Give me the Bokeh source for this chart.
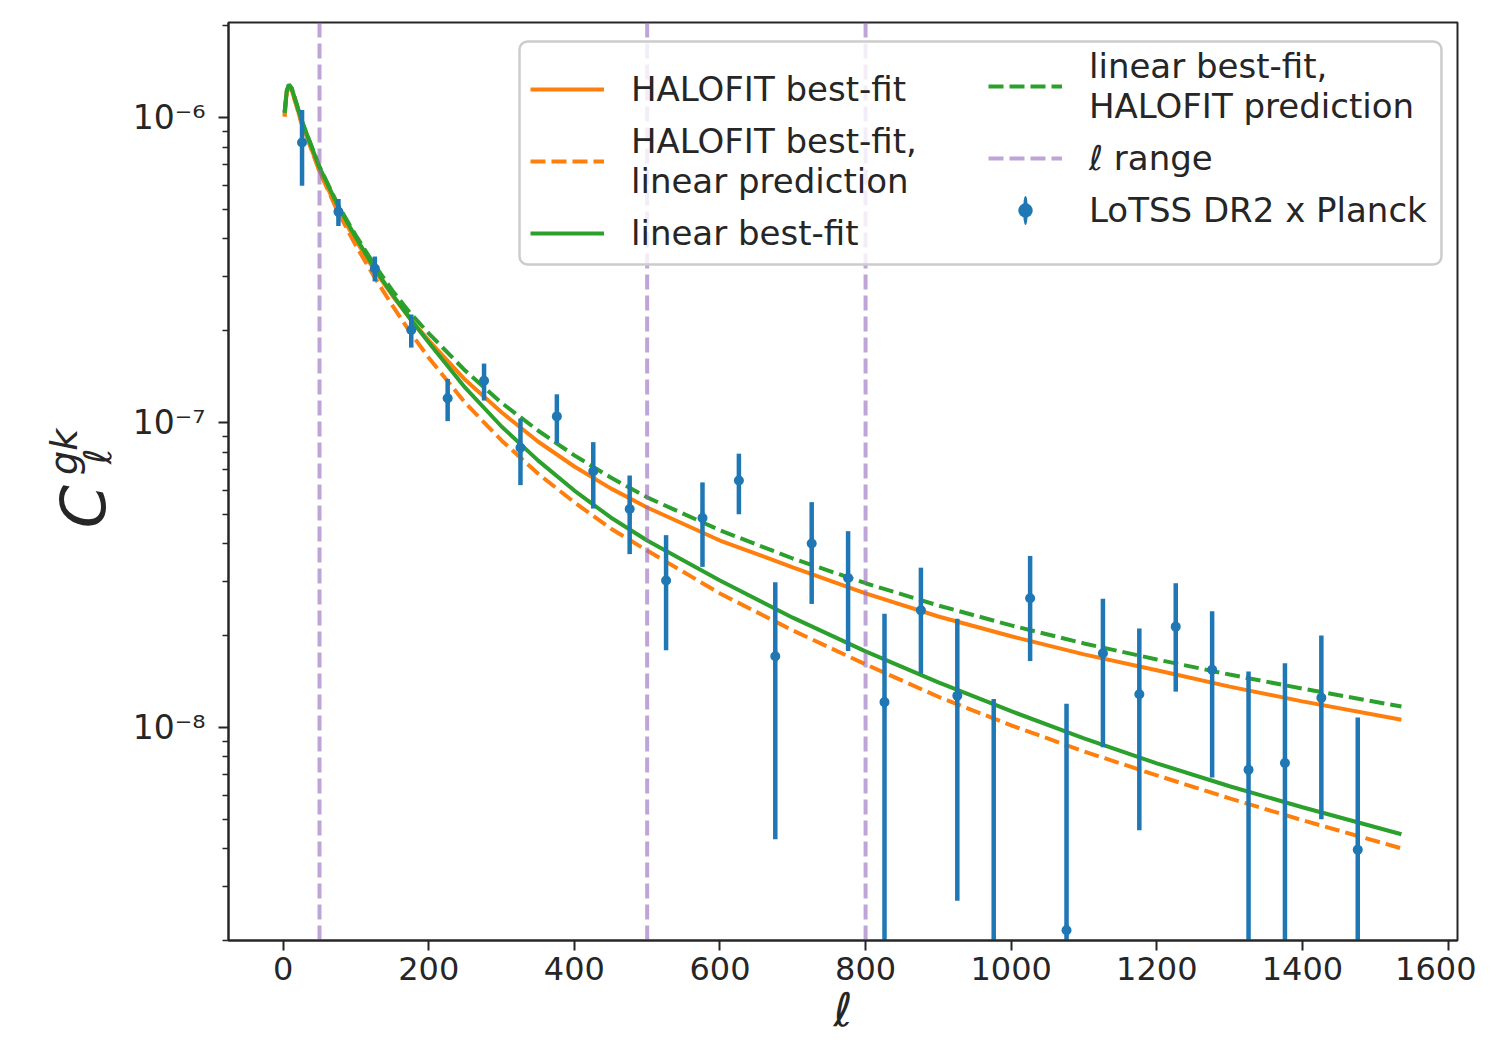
import math
from bokeh.plotting import figure
from bokeh.layouts import row
from bokeh.models import (Range1d, FixedTicker, CustomJSTickFormatter, Legend, LegendItem, Label,
                          BoxAnnotation)
from bokeh.embed import file_html
from bokeh.resources import INLINE

# ---------------- data ----------------
ell_data = [26, 76, 126, 176, 226, 276, 326, 376, 426, 476, 526, 576, 626, 676, 726,
            776, 826, 876, 926, 976, 1026, 1076, 1126, 1176, 1226, 1276, 1326, 1376, 1426, 1476]
cl_data = [8.28e-7, 4.91e-7, 3.20e-7, 2.01e-7, 1.20e-7, 1.37e-7, 8.26e-8, 1.047e-7, 6.92e-8, 5.20e-8,
           3.03e-8, 4.86e-8, 6.45e-8, 1.71e-8, 4.01e-8, 3.09e-8, 1.21e-8, 2.42e-8, 1.27e-8, 1.0e-9,
           2.65e-8, 2.16e-9, 1.75e-8, 1.285e-8, 2.14e-8, 1.545e-8, 7.26e-9, 7.64e-9, 1.25e-8, 3.97e-9]
cl_err = [2.3e-7, 5.0e-8, 3.0e-8, 2.5e-8, 1.9e-8, 1.9e-8, 2.03e-8, 1.9e-8, 1.7e-8, 1.5e-8,
          1.24e-8, 1.5e-8, 1.45e-8, 1.28e-8, 1.47e-8, 1.31e-8, 1.15e-8, 9.2e-9, 1.0e-8, 1.14e-8,
          1.0e-8, 9.8e-9, 8.9e-9, 8.25e-9, 8.3e-9, 8.6e-9, 8.0e-9, 8.6e-9, 7.5e-9, 6.8e-9]

ell_theory = [2, 5, 8, 12, 18, 25, 35, 50, 75, 100, 125, 150, 175, 200, 250, 300, 350, 400, 450,
              500, 600, 700, 800, 900, 1000, 1100, 1200, 1300, 1400, 1536]
halofit_bestfit = [1.008e-6, 1.208e-6, 1.264e-6, 1.226e-6, 1.103e-6, 9.63e-7, 8.34e-7, 6.70e-7,
                   4.99e-7, 3.95e-7, 3.17e-7, 2.61e-7, 2.18e-7, 1.86e-7, 1.38e-7, 1.08e-7, 8.66e-8,
                   7.17e-8, 6.08e-8, 5.26e-8, 4.10e-8, 3.35e-8, 2.75e-8, 2.31e-8, 1.99e-8, 1.735e-8,
                   1.54e-8, 1.36e-8, 1.217e-8, 1.06e-8]
halofit_bestfit_linpred = [1.008e-6, 1.208e-6, 1.264e-6, 1.226e-6, 1.103e-6, 9.63e-7, 8.34e-7, 6.65e-7,
                           4.92e-7, 3.80e-7, 3.01e-7, 2.42e-7, 1.97e-7, 1.63e-7, 1.16e-7, 8.73e-8,
                           6.80e-8, 5.47e-8, 4.49e-8, 3.80e-8, 2.75e-8, 2.08e-8, 1.61e-8, 1.26e-8,
                           1.015e-8, 8.34e-9, 6.96e-9, 5.85e-9, 4.96e-9, 4.01e-9]
linear_bestfit = [1.038e-6, 1.226e-6, 1.283e-6, 1.245e-6, 1.120e-6, 9.85e-7, 8.53e-7, 6.86e-7,
                  5.15e-7, 4.04e-7, 3.22e-7, 2.63e-7, 2.18e-7, 1.83e-7, 1.30e-7, 9.70e-8, 7.51e-8,
                  5.98e-8, 4.88e-8, 4.10e-8, 3.03e-8, 2.29e-8, 1.775e-8, 1.405e-8, 1.13e-8, 9.20e-9,
                  7.62e-9, 6.41e-9, 5.47e-9, 4.46e-9]
linear_bestfit_halopred = [1.038e-6, 1.226e-6, 1.283e-6, 1.245e-6, 1.120e-6, 9.85e-7, 8.53e-7, 6.91e-7,
                           5.19e-7, 4.10e-7, 3.30e-7, 2.71e-7, 2.28e-7, 1.96e-7, 1.48e-7, 1.16e-7,
                           9.41e-8, 7.80e-8, 6.60e-8, 5.68e-8, 4.43e-8, 3.58e-8, 2.97e-8, 2.51e-8,
                           2.16e-8, 1.885e-8, 1.67e-8, 1.49e-8, 1.34e-8, 1.17e-8]
ell_range = [50, 500, 800]

x_ticks = [0, 200, 400, 600, 800, 1000, 1200, 1400, 1600]
y_major = [1e-8, 1e-7, 1e-6]
y_minor = [m * 10.0 ** k for k in (-9, -8, -7, -6) for m in range(2, 10)]
x_lim = (-75, 1613)
y_lim = (2.0e-9, 2.05e-6)

ORANGE = "#ff7f0e"
GREEN = "#2ca02c"
BLUE = "#1f77b4"
PURPLE = "#9467bd"
TXT = "#262626"
FONT = "DejaVu Sans"
DASH = "15 6"

TOTAL_W, TOTAL_H = 1476, 1039
LABEL_W = 120  # strip holding the rotated y-axis label

# ---------------- main figure ----------------
p = figure(width=TOTAL_W - LABEL_W, height=TOTAL_H, x_range=Range1d(*x_lim), y_range=Range1d(*y_lim),
           y_axis_type="log", output_backend="svg", toolbar_location=None,
           min_border_left=228 - LABEL_W, min_border_right=19, min_border_top=22, min_border_bottom=99)
p.xgrid.visible = False
p.ygrid.visible = False
p.outline_line_color = TXT
p.outline_line_width = 2
p.outline_line_alpha = 1
p.background_fill_color = "white"

for ax in (p.xaxis, p.yaxis):
    ax.axis_line_color = TXT
    ax.axis_line_width = 2
    ax.major_tick_line_color = TXT
    ax.major_tick_line_width = 2
    ax.major_tick_out = 10
    ax.major_tick_in = 0
    ax.major_label_text_font = FONT
    ax.major_label_text_color = TXT

p.xaxis.major_label_text_font_size = "32px"
p.yaxis.major_label_text_font_size = "33px"

p.xaxis.ticker = FixedTicker(ticks=x_ticks)
p.xaxis.minor_tick_line_color = None
p.xaxis.major_label_standoff = 6
p.xaxis.axis_label = "ℓ"
p.xaxis.axis_label_text_font = FONT
p.xaxis.axis_label_text_font_size = "46px"
p.xaxis.axis_label_text_font_style = "italic"
p.xaxis.axis_label_text_color = TXT
p.xaxis.axis_label_standoff = 0

p.yaxis.ticker = FixedTicker(ticks=y_major, minor_ticks=y_minor)
p.yaxis.minor_tick_line_color = TXT
p.yaxis.minor_tick_line_width = 1.5
p.yaxis.minor_tick_out = 6
p.yaxis.minor_tick_in = 0
p.yaxis.major_label_standoff = 13
p.yaxis.formatter = CustomJSTickFormatter(code="""
const e = Math.round(Math.log10(tick));
const sup = {"-":"\u207b","0":"\u2070","1":"\u00b9","2":"\u00b2","3":"\u00b3","4":"\u2074",
             "5":"\u2075","6":"\u2076","7":"\u2077","8":"\u2078","9":"\u2079"};
return "10" + String(e).split("").map(c => sup[c]).join("");
""")

# ---------------- curves ----------------
r_os = p.line(ell_theory, halofit_bestfit, line_color=ORANGE, line_width=4)
r_od = p.line(ell_theory, halofit_bestfit_linpred, line_color=ORANGE, line_width=4, line_dash=DASH)
r_gs = p.line(ell_theory, linear_bestfit, line_color=GREEN, line_width=4)
r_gd = p.line(ell_theory, linear_bestfit_halopred, line_color=GREEN, line_width=4, line_dash=DASH)

r_range = p.segment(x0=ell_range, y0=[y_lim[0]] * len(ell_range), x1=ell_range,
                    y1=[y_lim[1]] * len(ell_range), line_color=PURPLE, line_alpha=0.6,
                    line_width=4, line_dash=DASH)

# ---------------- data points ----------------
lower = [max(v - e, 1e-12) for v, e in zip(cl_data, cl_err)]
upper = [v + e for v, e in zip(cl_data, cl_err)]
r_err = p.segment(x0=ell_data, y0=lower, x1=ell_data, y1=upper, line_color=BLUE, line_width=4.5)
r_bar = p.ellipse(x=ell_data, y=cl_data, width=4, height=24, width_units="screen",
                  height_units="screen", fill_color=BLUE, line_color=None)
r_pts = p.scatter(ell_data, cl_data, size=10, fill_color=BLUE, line_color=None)

# ---------------- legend (frame box + two columns) ----------------
box = BoxAnnotation(left=324.7, right=1591.0, top=1.775e-6, bottom=3.297e-7,
                    fill_color="white", fill_alpha=0.8, line_color="#cccccc", line_width=2.5,
                    line_alpha=1.0, border_radius=8)
p.add_layout(box)


def make_legend(items, loc):
    lg = Legend(items=items, location=loc, orientation="vertical")
    lg.label_text_font = FONT
    lg.label_text_font_size = "34px"
    lg.label_text_color = TXT
    lg.glyph_width = 74
    lg.glyph_height = 36
    lg.label_standoff = 27
    lg.spacing = 12
    lg.padding = 0
    lg.margin = 0
    lg.border_line_color = None
    lg.background_fill_alpha = 0.0
    return lg


leg_a = make_legend([
    LegendItem(label="HALOFIT best-fit", renderers=[r_os]),
    LegendItem(label="HALOFIT best-fit,\nlinear prediction", renderers=[r_od]),
    LegendItem(label="linear best-fit", renderers=[r_gs]),
], (302, 687))
leg_b = make_legend([
    LegendItem(label="linear best-fit,\nHALOFIT prediction", renderers=[r_gd]),
    LegendItem(label="ℓ range", renderers=[r_range]),
    LegendItem(label="LoTSS DR2 x Planck", renderers=[r_bar, r_pts]),
], (760, 710))
p.add_layout(leg_a)
p.add_layout(leg_b)

# ---------------- y-axis label strip: C_ell^{gk} ----------------
pl = figure(width=LABEL_W, height=TOTAL_H, x_range=Range1d(0, LABEL_W), y_range=Range1d(0, TOTAL_H),
            output_backend="svg", toolbar_location=None, x_axis_location=None, y_axis_location=None,
            min_border_left=0, min_border_right=0, min_border_top=0, min_border_bottom=0)
pl.outline_line_color = None
pl.xgrid.visible = False
pl.ygrid.visible = False
lab_kw = dict(angle=math.pi / 2, text_font=FONT, text_font_style="italic", text_color=TXT,
              text_align="center", text_baseline="middle")
pl.add_layout(Label(x=83, y=491, text="C", text_font_size="62px", **lab_kw))
pl.add_layout(Label(x=63, y=553, text="gk", text_font_size="38px", **lab_kw))
pl.add_layout(Label(x=97, y=548, text="ℓ", text_font_size="38px", **lab_kw))

layout = row(pl, p, spacing=0)
open("out.html", "w").write(file_html(layout, INLINE))
